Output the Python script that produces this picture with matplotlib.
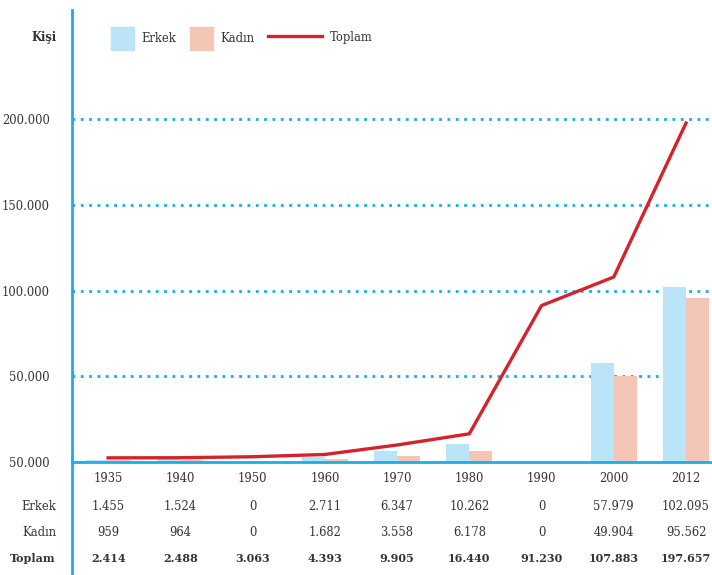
import matplotlib
matplotlib.use("Agg")
import matplotlib.pyplot as plt
import numpy as np
from matplotlib.patches import Rectangle
from matplotlib.lines import Line2D
from matplotlib.transforms import blended_transform_factory

# veriler
years = ["1935", "1940", "1950", "1960", "1970", "1980", "1990", "2000", "2012"]
erkek = [1455, 1524, 0, 2711, 6347, 10262, 0, 57979, 102095]
kadin = [959, 964, 0, 1682, 3558, 6178, 0, 49904, 95562]
toplam = [2414, 2488, 3063, 4393, 9905, 16440, 91230, 107883, 197657]
yticks = [0, 50000, 100000, 150000, 200000]
ytick_labels = ["50.000", "50.000", "100.000", "150.000", "200.000"]

BLUE = "#1aaee8"
C_ERKEK = "#bae4f8"
C_KADIN = "#f3c6b6"
C_TOP = "#d4232c"
TXT = "#333333"
FS = 8.3

def fmt(v):
    return f"{v:,}".replace(",", ".")

plt.rcParams["font.family"] = ["DejaVu Serif"]
W, H = 712, 575
fig = plt.figure(figsize=(W/100, H/100), dpi=100)
ax = fig.add_axes([72/W, (H-462)/H, 1-72/W, (462-10)/H])

x = np.arange(len(years))
bw = 0.32
ax.bar(x - bw/2, erkek, bw, color=C_ERKEK, zorder=2)
ax.bar(x + bw/2, kadin, bw, color=C_KADIN, zorder=2)
ax.plot(x, toplam, color=C_TOP, lw=2.4, zorder=3)

ax.set_xlim(-0.5, 8.36)
ax.set_ylim(0, 263600)
for t in yticks[1:]:
    ax.axhline(t, color=BLUE, lw=2, ls=(0, (1, 2)), zorder=1)

ax.set_yticks(yticks)
ax.set_yticklabels(ytick_labels, fontsize=FS, color=TXT)
ax.tick_params(axis="y", length=0, pad=16)
ax.set_xticks([])
for s in ["top", "right", "left"]:
    ax.spines[s].set_visible(False)
ax.spines["bottom"].set_color(BLUE)
ax.spines["bottom"].set_linewidth(2)
ax.spines["bottom"].set_zorder(4)

# sol eksen cizgisi (tablo boyunca uzanir)
fig.add_artist(Line2D([72/W, 72/W], [0, (H-10)/H], transform=fig.transFigure,
                      color=BLUE, lw=2))

# tablo
trt = blended_transform_factory(ax.transData, fig.transFigure)
rows = [("", years, 478, "normal", FS),
        ("Erkek", [fmt(v) for v in erkek], 506, "normal", FS),
        ("Kadın", [fmt(v) for v in kadin], 532, "normal", FS),
        ("Toplam", [fmt(v) for v in toplam], 558, "bold", 8.0)]
for lab, vals, ypix, wt, fs in rows:
    yf = (H - ypix) / H
    if lab:
        fig.text(56/W, yf, lab, ha="right", va="center", fontsize=fs,
                 color=TXT, weight=wt)
    for i, v in enumerate(vals):
        fig.text(x[i], yf, v, ha="center", va="center", fontsize=fs,
                 color=TXT, weight=wt, transform=trt)

# baslik ve lejant
fig.text(44/W, (H-38)/H, "Kişi", ha="center", va="center", fontsize=FS,
         weight="bold", color=TXT)
ly = (H-38)/H
fig.add_artist(Rectangle((111/W, (H-50)/H), 23/W, 23/H, transform=fig.transFigure,
                         color=C_ERKEK))
fig.text(141/W, ly, "Erkek", va="center", fontsize=FS, color=TXT)
fig.add_artist(Rectangle((190/W, (H-50)/H), 23/W, 23/H, transform=fig.transFigure,
                         color=C_KADIN))
fig.text(220/W, ly, "Kadın", va="center", fontsize=FS, color=TXT)
fig.add_artist(Line2D([268/W, 322/W], [(H-36)/H]*2, transform=fig.transFigure,
                      color=C_TOP, lw=2.4))
fig.text(330/W, ly, "Toplam", va="center", fontsize=FS, color=TXT)

fig.savefig("out.png", dpi=100)
